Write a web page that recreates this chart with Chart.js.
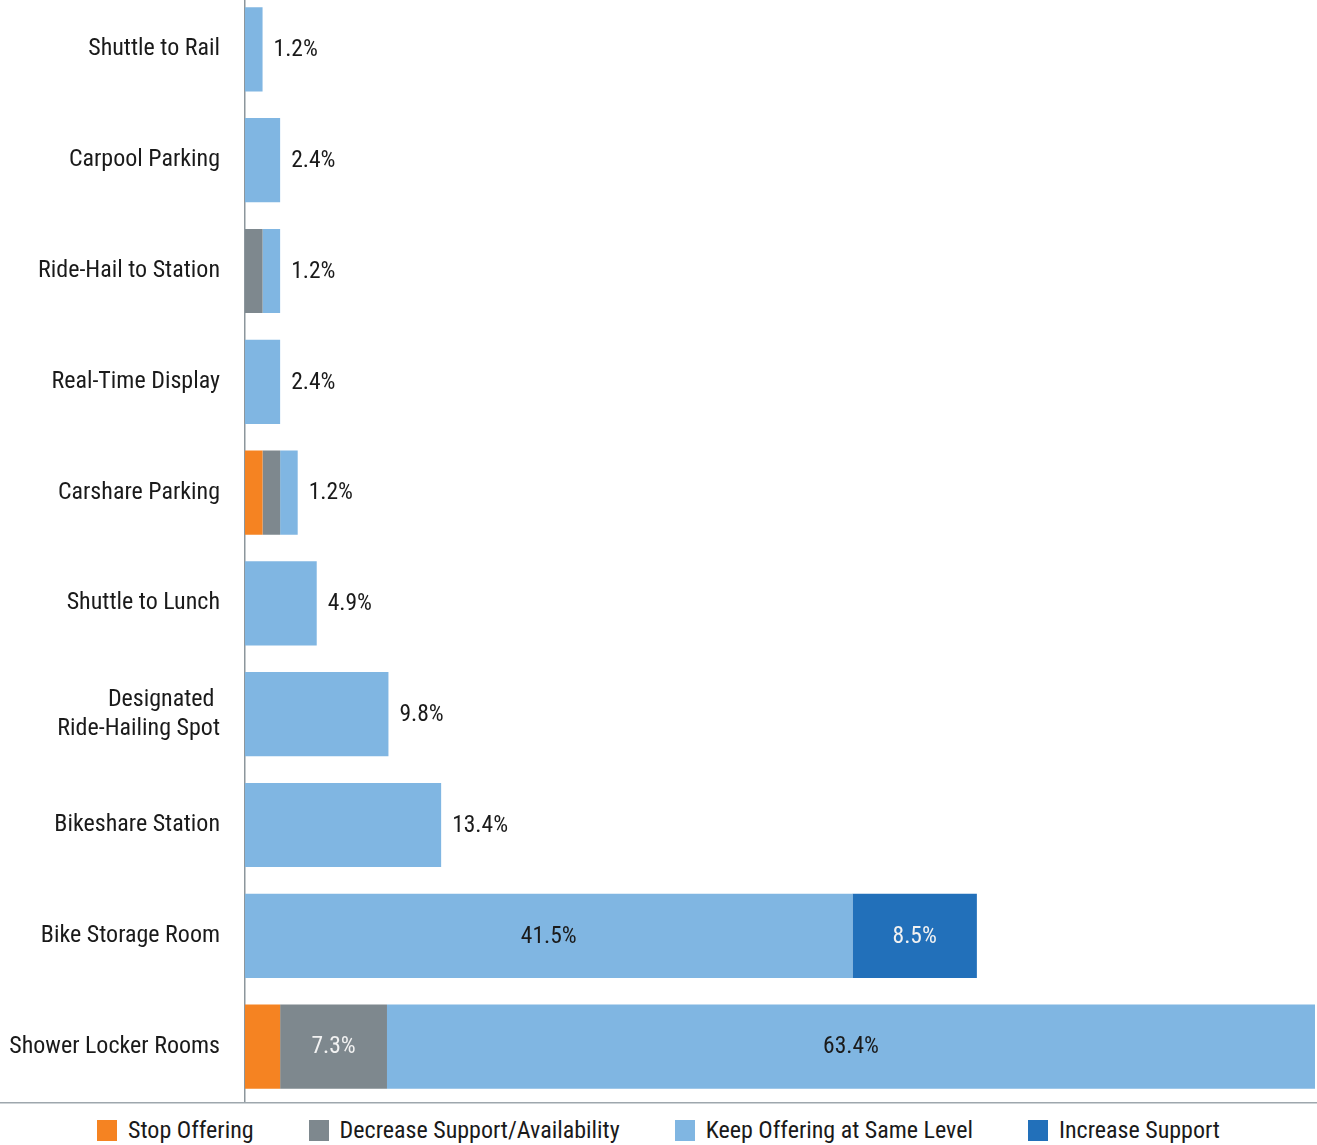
<!DOCTYPE html>
<html>
<head>
<meta charset="utf-8">
<title>Amenity support</title>
<script src="https://cdn.jsdelivr.net/npm/chart.js@4.4.1/dist/chart.umd.min.js"></script>
<style>
  html, body { margin: 0; padding: 0; background: #fff; overflow: hidden; }
  body { width: 1317px; height: 1145px; position: relative; font-family: Roboto, sans-serif; font-stretch: condensed; }
  #wrap { position: absolute; left: 0; top: -6px; width: 1317px; height: 1112px; }
  #legend { position: absolute; left: 0; top: 1117px; width: 1317px; display: flex; justify-content: center; align-items: center; }
  #legend .item { display: flex; align-items: center; margin-right: 55px; font-size: 24px; color: #1a1a1a; line-height: 26px; }
  #legend .item:last-child { margin-right: 0; }
  #legend .box { width: 20px; height: 21px; margin-right: 11px; }
</style>
</head>
<body>
<div id="wrap"><canvas id="chart"></canvas></div>
<div id="legend"></div>
<script>
const categories = [
  'Shuttle to Rail',
  'Carpool Parking',
  'Ride-Hail to Station',
  'Real-Time Display',
  'Carshare Parking',
  'Shuttle to Lunch',
  ['Designated ', 'Ride-Hailing Spot'],
  'Bikeshare Station',
  'Bike Storage Room',
  'Shower Locker Rooms'
];
const stopOffering    = [0, 0, 0,   0,   1.2, 0,   0,   0,    0,    2.4];
const decreaseSupport = [0, 0, 1.2, 0,   1.2, 0,   0,   0,    0,    7.3];
const keepOffering    = [1.2, 2.4, 1.2, 2.4, 1.2, 4.9, 9.8, 13.4, 41.5, 63.4];
const increaseSupport = [0, 0, 0,   0,   0,   0,   0,   0,    8.5,  0];
const xMax = 73.1;

const fontFamily = 'Roboto, sans-serif';
const fmt = v => v.toFixed(1) + '%';

// long stacks get their percentages inside each segment,
// short ones show the "keep" share after the end of the stack
const valueLabels = {
  id: 'valueLabels',
  afterDatasetsDraw(chart) {
    const { ctx } = chart;
    const sets = chart.data.datasets;
    ctx.save();
    ctx.font = 'condensed 23.5px ' + fontFamily;
    ctx.textBaseline = 'middle';
    categories.forEach((cat, i) => {
      const total = sets.reduce((s, ds) => s + ds.data[i], 0);
      let endX = chart.chartArea.left;
      let y = null;
      sets.forEach((ds, d) => {
        const v = ds.data[i];
        if (!v) return;
        const bar = chart.getDatasetMeta(d).data[i];
        y = bar.y;
        endX = Math.max(endX, bar.x);
        if (total > 30 && v >= 5) {
          ctx.fillStyle = ds.labelColor;
          ctx.textAlign = 'center';
          ctx.fillText(fmt(v), (bar.x + bar.base) / 2, bar.y + 1);
        }
      });
      if (total <= 30 && y !== null) {
        ctx.fillStyle = '#1a1a1a';
        ctx.textAlign = 'left';
        ctx.fillText(fmt(keepOffering[i]), endX + 11, y + 1);
      }
    });
    ctx.restore();
  }
};

// baseline rule running the full width under the bars
const baseRule = {
  id: 'baseRule',
  afterDraw(chart) {
    const { ctx, chartArea } = chart;
    ctx.save();
    ctx.strokeStyle = '#9ea7ad';
    ctx.lineWidth = 1.5;
    ctx.beginPath();
    ctx.moveTo(0, chartArea.bottom + 0.75);
    ctx.lineTo(chart.width, chartArea.bottom + 0.75);
    ctx.stroke();
    ctx.restore();
  }
};

// html legend built from the datasets
const htmlLegend = {
  id: 'htmlLegend',
  afterUpdate(chart) {
    const el = document.getElementById('legend');
    el.innerHTML = '';
    chart.data.datasets.forEach(ds => {
      const item = document.createElement('div');
      item.className = 'item';
      const box = document.createElement('span');
      box.className = 'box';
      box.style.background = ds.backgroundColor;
      const txt = document.createElement('span');
      txt.textContent = ds.label;
      item.appendChild(box);
      item.appendChild(txt);
      el.appendChild(item);
    });
  }
};

new Chart(document.getElementById('chart'), {
  type: 'bar',
  data: {
    labels: categories,
    datasets: [
      { label: 'Stop Offering', data: stopOffering, backgroundColor: '#f58322', labelColor: '#ffffff' },
      { label: 'Decrease Support/Availability', data: decreaseSupport, backgroundColor: '#7e888e', labelColor: '#f2f2f2' },
      { label: 'Keep Offering at Same Level', data: keepOffering, backgroundColor: '#80b6e2', labelColor: '#1a1a1a' },
      { label: 'Increase Support', data: increaseSupport, backgroundColor: '#2270ba', labelColor: '#f2f2f2' }
    ]
  },
  options: {
    indexAxis: 'y',
    responsive: true,
    maintainAspectRatio: false,
    animation: false,
    datasets: { bar: { barPercentage: 0.76, categoryPercentage: 1, borderWidth: 0 } },
    layout: { padding: { top: 0, bottom: 4, left: 0, right: 2 } },
    scales: {
      x: { stacked: true, min: 0, max: xMax, display: false },
      y: {
        stacked: true,
        grid: { display: false, drawTicks: false },
        border: { display: true, color: '#8c969c', width: 1.5 },
        ticks: {
          color: '#1a1a1a',
          padding: 25,
          font: { family: fontFamily, size: 24, weight: 'condensed', lineHeight: 1.2 }
        },
        afterFit(scale) {
          scale.width = 245;
          scale.paddingTop = 0;
          scale.paddingBottom = 0;
        }
      }
    },
    plugins: {
      legend: { display: false },
      tooltip: { enabled: false }
    }
  },
  plugins: [valueLabels, baseRule, htmlLegend]
});
</script>
</body>
</html>
